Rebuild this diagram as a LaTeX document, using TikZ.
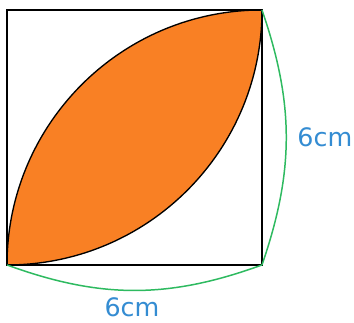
\documentclass[tikz,border=0pt]{standalone}
\usepackage{fontspec}
\setmainfont{DejaVu Sans}
\usetikzlibrary{calc}
\definecolor{leaforange}{RGB}{249,128,36}
\definecolor{arcgreen}{RGB}{46,186,96}
\definecolor{labelblue}{RGB}{52,140,210}
\tikzset{every picture/.style={line width=0.75pt}}
\tikzset{sidelabel/.style={text=labelblue, font=\fontsize{17}{20}\selectfont, inner sep=0pt}}

\begin{document}
\begin{tikzpicture}[scale=1.0]
    \useasboundingbox (-0.165,-1.365) rectangle (8.165,6.235);

    % 正方形的四个顶点
    \coordinate (bl) at (0,0);
    \coordinate (br) at (6,0);
    \coordinate (tr) at (6,6);
    \coordinate (tl) at (0,6);

    % 阴影部分（两段四分之一圆弧围成）
    \fill[leaforange] (bl) arc[start angle=180, end angle=90, radius=6]
        arc[start angle=0, end angle=-90, radius=6] -- cycle;
    \draw[black, line width=0.9pt] (bl) arc[start angle=180, end angle=90, radius=6];
    \draw[black, line width=0.9pt] (tr) arc[start angle=0, end angle=-90, radius=6];

    % 正方形
    \draw[black, line width=1pt] (bl) rectangle (tr);

    % 标注边长
    \draw[arcgreen, line width=1pt] (bl) to[bend right=20] (br);
    \draw[arcgreen, line width=1pt] (br) to[bend right=19] (tr);
    \node[sidelabel] (lbottom) at (2.94,-1.0) {6cm};
    \node[sidelabel] (lright) at (7.48,3.01) {6cm};
\end{tikzpicture}
\end{document}
